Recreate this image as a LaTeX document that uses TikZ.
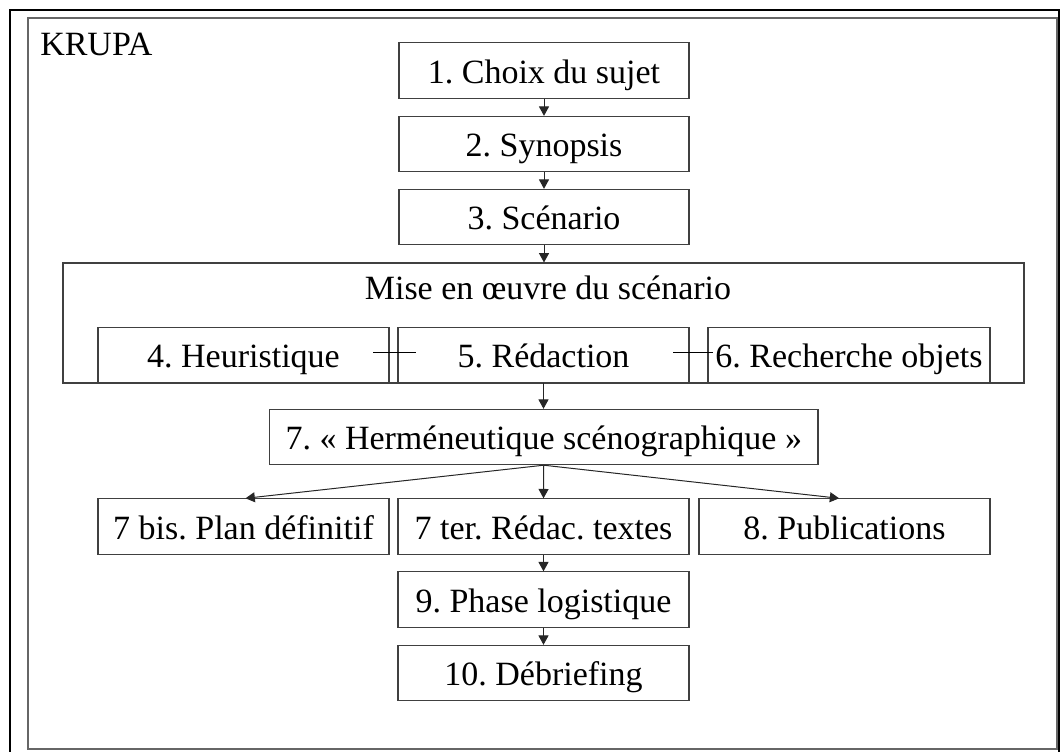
\documentclass[tikz,border=0pt]{standalone}
\usepackage{fontspec}
\setmainfont{Liberation Serif}
\usetikzlibrary{arrows.meta}
\frenchspacing
\begin{document}
\begin{tikzpicture}[x=0.75pt,y=-0.75pt,
  font=\fontsize{25.5pt}{30pt}\selectfont,
  stepbox/.style={draw=black!75, line width=0.8pt, inner sep=0pt,
    minimum height=41.5pt, text height=30.25pt, text depth=11.25pt},
  wide/.style={minimum width=218.25pt},
  arr/.style={draw=black!85, line width=0.75pt, -{Triangle[length=7pt,width=7.5pt]}},
  stub/.style={draw=black, line width=0.75pt}]
\clip (0,0) rectangle (1060,751);
% frames
\draw[line width=2.2pt] (10,10) rectangle (1059,790);
\draw[draw=black!60, line width=1pt] (28,18) rectangle (1057,749);
\node[anchor=base west, inner sep=0pt] (title) at (40,55) {KRUPA};

% first three steps
\node[stepbox, minimum width=217.5pt] (s1) at (544,70.5) {1. Choix du sujet};
\node[stepbox, minimum width=217.5pt] (s2) at (544,144) {2. Synopsis};
\node[stepbox, minimum width=217.5pt] (s3) at (544,217) {3. Scénario};

% implementation group
\node[draw=black!75, line width=0.8pt, inner sep=0pt, minimum width=720.75pt, minimum height=90pt] (mise) at (543.5,323) {};
\node[anchor=base, inner sep=0pt] (misetitle) at (548,299) {Mise en œuvre du scénario};
\node[stepbox, wide] (s4) at (243.5,355) {4. Heuristique};
\node[stepbox, wide] (s5) at (543.5,355) {5. Rédaction};
\node[stepbox, minimum width=211.5pt] (s6) at (849,355) {6. Recherche objets};
\coordinate (c4a) at (373,352);
\coordinate (c4b) at (416,352);
\coordinate (c5a) at (673,352);
\coordinate (c5b) at (713,352);
\draw[stub] (c4a) -- (c4b);
\draw[stub] (c5a) -- (c5b);

% hermeneutics and its branches
\node[stepbox, minimum width=411.4pt] (s7) at (543.75,437) {7. « Herméneutique scénographique »};
\node[stepbox, wide] (s7b) at (243.5,526.5) {7 bis. Plan définitif};
\node[stepbox, wide] (s7t) at (543.5,526.5) {7 ter. Rédac. textes};
\node[stepbox, wide] (s8) at (844.5,526.5) {8. Publications};
\node[stepbox, wide] (s9) at (543.5,599.5) {9. Phase logistique};
\node[stepbox, wide] (s10) at (543.5,673) {10. Débriefing};

% arrows
\draw[arr] (s1) -- (s2);
\draw[arr] (s2) -- (s3);
\draw[arr] (s3.south) -- (s3.south |- mise.north);
\draw[arr] (s5.south) -- (s7.north -| s5.south);
\draw[arr] (s7.south) -- ([xshift=1.5pt]s7b.north);
\draw[arr] (s7.south) -- (s7t.north);
\draw[arr] (s7.south) -- ([xshift=-4pt]s8.north);
\draw[arr] (s7t) -- (s9);
\draw[arr] (s9) -- (s10);
\end{tikzpicture}
\end{document}
